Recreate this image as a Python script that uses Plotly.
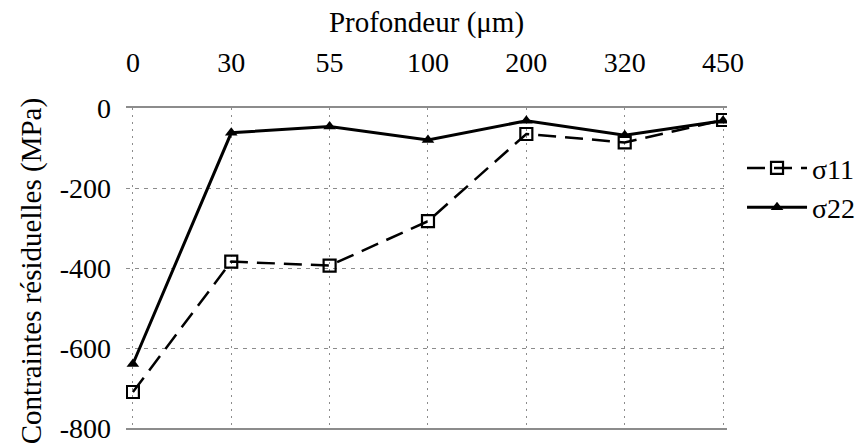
import plotly.graph_objects as go

# Depth positions (µm) and residual stresses (MPa)
profondeur = ["0", "30", "55", "100", "200", "320", "450"]
sigma11 = [-710, -384, -394, -283, -65, -86, -30]
sigma22 = [-640, -62, -46, -80, -32, -68, -32]
y_ticks = [0, -200, -400, -600, -800]

FONT = "Liberation Serif, Times New Roman, serif"
GRID = "#8c8c8c"

fig = go.Figure()
fig.add_trace(go.Scatter(
    x=profondeur, y=sigma11, name="σ11", mode="lines+markers",
    line=dict(color="black", width=2.5, dash="18px,9px"),
    marker=dict(symbol="square-open", size=12, color="black", line=dict(width=2.2)),
))
fig.add_trace(go.Scatter(
    x=profondeur, y=sigma22, name="σ22", mode="lines+markers",
    line=dict(color="black", width=3),
    marker=dict(symbol="triangle-up", size=11, color="black"),
))

fig.update_layout(
    width=862, height=447,
    margin=dict(l=126, r=135, t=108, b=19, autoexpand=False),
    paper_bgcolor="white", plot_bgcolor="white",
    font=dict(family=FONT, size=28, color="black"),
    showlegend=True,
    legend=dict(x=1.025, y=0.89, xanchor="left", yanchor="top",
                font=dict(family=FONT, size=28), tracegroupgap=0,
                itemwidth=60, bgcolor="rgba(0,0,0,0)"),
    xaxis=dict(
        type="category", categoryorder="array", categoryarray=profondeur,
        side="top", range=[-0.07, 6.04],
        showgrid=True, gridcolor=GRID, griddash="2px,5px", gridwidth=1,
        showline=True, linecolor=GRID, linewidth=1.5, mirror=True,
        ticks="", ticklabelstandoff=23,
        tickfont=dict(family=FONT, size=28),
        title=dict(text="Profondeur (μm)", font=dict(family=FONT, size=29), standoff=6),
    ),
    yaxis=dict(
        range=[-800, 0], tickvals=y_ticks, ticktext=[str(v) for v in y_ticks],
        showgrid=True, gridcolor=GRID, griddash="4px,5px", gridwidth=1,
        zeroline=False, showline=False, ticks="", ticklabelstandoff=14,
        tickfont=dict(family=FONT, size=28),
    ),
    annotations=[dict(
        text="Contraintes résiduelles (MPa)", textangle=-90,
        xref="paper", yref="paper", x=-0.158, y=0.49,
        xanchor="center", yanchor="middle", showarrow=False,
        font=dict(family=FONT, size=29, color="black"),
    )],
)

fig.write_html("out.html")
